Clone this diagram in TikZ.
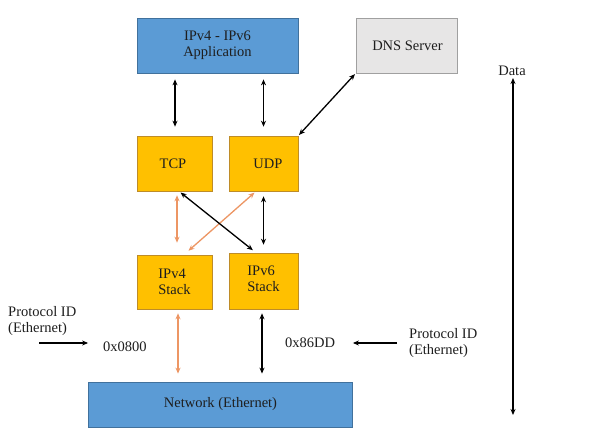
\documentclass[tikz,border=0pt]{standalone}
\usepackage{fontspec}
\setmainfont{Liberation Serif}
\newfontfamily\tnrfont{Liberation Serif}
\usetikzlibrary{arrows.meta,calc}
\definecolor{appblue}{RGB}{91,155,213}
\definecolor{appborder}{RGB}{65,113,156}
\definecolor{boxorange}{RGB}{255,192,0}
\definecolor{orangeborder}{RGB}{190,140,40}
\definecolor{dnsgray}{RGB}{231,230,230}
\definecolor{dnsborder}{RGB}{160,160,160}
\definecolor{arroworange}{RGB}{237,150,100}
\definecolor{textdark}{RGB}{30,30,30}
\begin{document}
\begin{tikzpicture}[x=1pt,y=-1pt,
  font=\tnrfont\fontsize{14.5}{16}\selectfont,
  text=textdark,
  bluebox/.style={draw=appborder,fill=appblue,line width=0.8pt,align=center,inner sep=0pt},
  yellowbox/.style={draw=orangeborder,fill=boxorange,line width=0.6pt,align=center,inner sep=0pt},
  graybox/.style={draw=dnsborder,fill=dnsgray,line width=0.8pt,align=center,inner sep=0pt},
  conn/.style={line width=1.3pt,black,{Stealth[length=6pt,width=5pt]}-{Stealth[length=6pt,width=5pt]}},
  oconn/.style={line width=1.3pt,arroworange,{Stealth[length=6pt,width=5pt]}-{Stealth[length=6pt,width=5pt]}},
  oneway/.style={line width=1.3pt,black,-{Stealth[length=6pt,width=5pt]}},
  lbl/.style={inner sep=0pt,align=left}]
\useasboundingbox (0,0) rectangle (600,446);
\fill[white] (0,0) rectangle (600,446);

\node[bluebox,minimum width=161pt,minimum height=55pt] (app) at (217.5,45.5) {IPv4 - IPv6\\Application};
\node[graybox,minimum width=101pt,minimum height=55pt] (dns) at (406.5,45.5) {\hspace{2pt}DNS Server};
\node[yellowbox,minimum width=75pt,minimum height=55pt] (tcp) at (174.5,163.5) {TCP\hspace{3pt}};
\node[yellowbox,minimum width=69pt,minimum height=55pt] (udp) at (263.5,163.5) {\hspace{9pt}UDP};
\node[yellowbox,minimum width=75pt,minimum height=54pt,align=left] (ipv4) at (174.5,282) {IPv4\\Stack};
\node[yellowbox,minimum width=69pt,minimum height=56pt,
  label={[lbl,yshift=2.5pt]center:{IPv6\\Stack}}] (ipv6) at (263.5,281) {};
\node[bluebox,minimum width=264pt,minimum height=45pt] (net) at (220.5,404.5) {Network (Ethernet)};

\node[lbl,anchor=west] (pidl) at (8,321) {Protocol ID\\(Ethernet)};
\node[lbl,anchor=west] (pidr) at (409,343.5) {Protocol ID\\(Ethernet)};
\node[lbl,anchor=west] (hexl) at (103,347) {0x0800};
\node[lbl,anchor=west] (hexr) at (285,343) {0x86DD};
\node[lbl] (data) at (512,71) {Data};

% application to transport
\draw[conn,shorten <=6pt,shorten >=9pt] ([xshift=0.5pt]app.south -| tcp.north) -- ([xshift=0.5pt]tcp.north);
\draw[conn,shorten <=6pt,shorten >=9pt] (app.south -| udp.north) -- (udp.north);
\draw[conn,shorten <=1pt,shorten >=1pt] (dns.south west) -- (udp.north east);

% transport to stacks
\draw[oconn,shorten <=4pt,shorten >=12pt] ([xshift=2.5pt]tcp.south) -- ([xshift=2.5pt]ipv4.north);
\draw[oconn,shorten <=2pt,shorten >=6pt] ([xshift=-7.5pt]udp.south) -- ([xshift=9.5pt]ipv4.north);
\draw[conn,shorten <=2pt,shorten >=4pt] ([xshift=4.5pt]tcp.south) -- ([xshift=-7.5pt]ipv6.north);
\draw[conn,shorten <=5pt,shorten >=8pt] (udp.south) -- (ipv6.north);

% stacks to network
\draw[oconn,shorten <=4pt,shorten >=8pt] ([xshift=3.5pt]ipv4.south) -- ([xshift=3.5pt]ipv4.south |- net.north);
\draw[conn,shorten <=4pt,shorten >=8pt] ([xshift=-1.5pt]ipv6.south) -- ([xshift=-1.5pt]ipv6.south |- net.north);

% protocol id arrows
\coordinate (pl) at (39,343);
\coordinate (pr) at (397,343);
\draw[oneway] (pl) -- (pl -| net.west);
\draw[oneway] (pr) -- (pr -| net.east);

% data arrow
\coordinate (dend) at (513,415);
\draw[conn,shorten <=2pt] (data.south -| dend) -- (dend);
\end{tikzpicture}
\end{document}
